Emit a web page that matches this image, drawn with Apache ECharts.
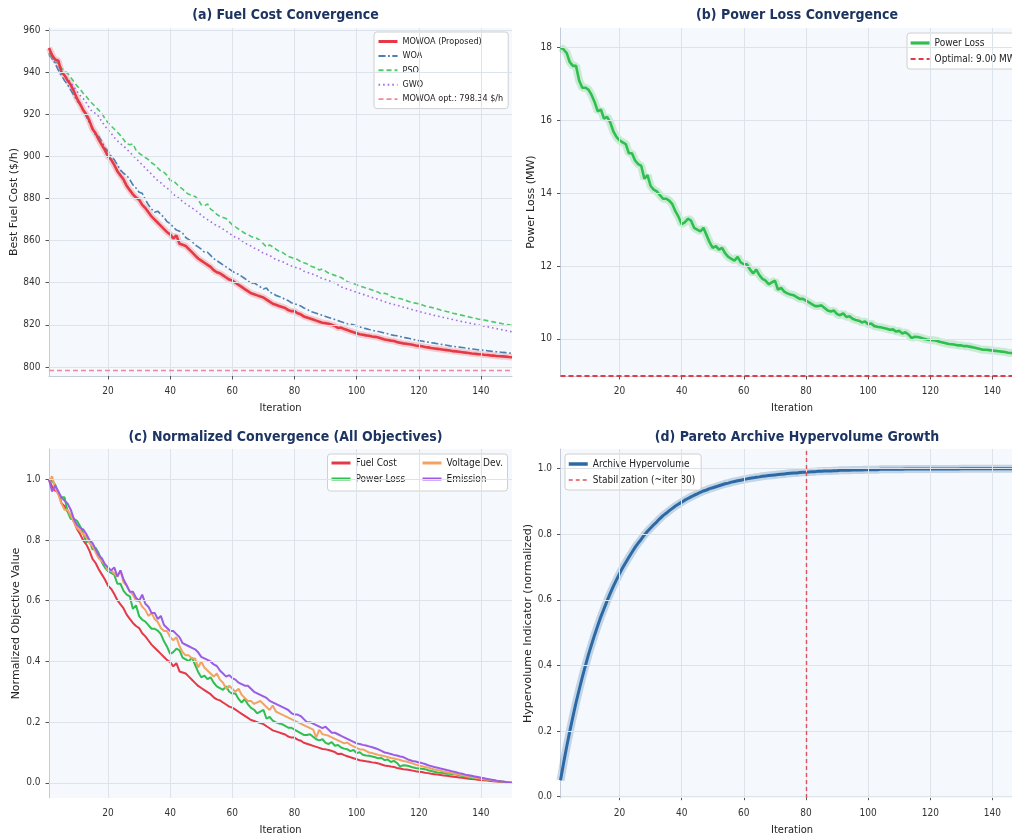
<!DOCTYPE html>
<html><head><meta charset="utf-8">
<script src="https://cdn.jsdelivr.net/npm/echarts@6/dist/echarts.min.js"></script>
<style>html,body{margin:0;padding:0;overflow:hidden;background:#fff}#c{width:1040px;height:837px}</style>
</head><body><div id="c"></div><script>
// ---------- data ----------
const xTicks = [20,40,60,80,100,120,140];
const fuelTicks = [800,820,840,860,880,900,920,940,960];
const lossTicks = [10,12,14,16,18];
const normTicks = [0,0.2,0.4,0.6,0.8,1.0];
const hvTicks = [0,0.2,0.4,0.6,0.8,1.0];

const optFuel = 798.34;
const optLoss = 9.00;
const stabIter = 80;

const fuelMOWOA = [951.5,948,946,945.5,940,938.5,936,934,931,927.5, 925,922,920,917,913,911,908,905.5,903,900, 898.5,896,893,891,889,886,884,882,880.5,879.5, 877,875.5,873.5,871.5,870,868.5,867,865.5,864,863, 861,862.5,858.5,858,857.5,856,854.5,853,851.5,850.5, 849.5,848.5,847.5,846,845,844.5,843.5,842.5,841.5,841, 840,839,838,837,836,835,834.5,834,833.5,833, 832,831,830,829.5,829,828.5,828,827,826.5,826.5, 825.5,825,824,823.5,823,822.5,822,821.5,821,820.8, 820.5,820,819.5,818.5,818.7,818,817.5,817,816.5,816, 815.5,815.3,815,814.8,814.5,814.3,814,813.5,813,812.8, 812.5,812.3,811.8,811.5,811.2,811,810.8,810.5,810.2,810, 809.8,809.5,809.3,809,808.8,808.6,808.4,808.2,808,807.8, 807.5,807.4,807.2,807,806.8,806.6,806.4,806.3,806.1,806, 805.8,805.7,805.5,805.4,805.2,805.1,805,804.9,804.7,804.6];
const fuelWOA = [949,946.5,944,941,938.5,936,934,931.5,929,926.5, 924.5,922,919,916,913.5,910,909.5,907,904,902.5, 900,898.5,896,893.5,892,891,889,886.5,885,883, 882.5,879.5,877,875,873.5,874,872.5,871,869,868, 866.5,865,864.5,863.5,861.5,860.5,859.5,858,857,856, 854.5,854.5,853,851.5,850.5,849.5,848.5,847.5,846.5,845.5, 844.5,844,843,842,841,839.5,840,839,838,837, 837.5,835.5,835,834,833.5,833,832,831.5,830.5,830, 829.5,829,828,827.5,826.5,826,825.5,825,824.5,824, 823.5,823,822.5,822,821.5,821,820.5,820.3,820,819.5, 819,818.5,818.2,817.8,817.5,817,816.8,816.5,816,815.8, 815.3,815,814.8,814.5,814,813.8,813.5,813.2,812.8,812.5, 812.3,812,811.8,811.5,811.3,811,810.8,810.5,810.3,810, 809.8,809.6,809.4,809.2,809,808.8,808.6,808.4,808.2,808, 807.9,807.7,807.5,807.4,807.2,807.1,806.9,806.8,806.6,806.5];
const fuelPSO = [948.5,947,945.5,944,942,940.5,939.5,937.5,935.5,933.5, 932,930,928.5,926.5,925,923.5,922,920.5,918,916, 914.5,913,911.5,910,908,906,905.5,906,903,901.5, 900.5,899.5,898.5,897,896,894.5,893,892.5,891,888.5, 888.5,887,885.5,884.5,883,882,881.5,881,879.5,877, 876.5,877.5,875,874,872.5,871.5,871,870.5,869,867.5, 866.5,865.5,864.5,863.5,863,862,861.5,861,860,858.5, 857,858,857,856,855,854.5,853.5,852.5,852,851.5, 851,850,849.5,849,848,847.5,847,846,846.5,845.5, 844.5,844,843.5,843,842.5,841.5,840.5,840,839.5,839, 838.5,838,837.5,837,836.5,836,835.5,834.5,835,834.5, 833.5,833,832.5,832.5,832,831.5,831,830.5,830.3,830, 829.5,829,828.5,828.3,828,827.5,827,826.7,826.3,826, 825.5,825.2,824.8,824.5,824.2,823.8,823.5,823.2,822.8,822.5, 822.3,822,821.7,821.4,821.1,820.8,820.5,820.3,820,819.7];
const fuelGWO = [948,946.5,945,942,940.5,938.5,937,935,933,931, 929,927.5,925.5,923,921,920.5,919,916.5,914.5,912.5, 911,909,907.5,906,905,903.5,902,900.5,899,897.5, 896,894.5,893,891.5,890,888.5,887.5,886,885,883.5, 882,881,880,878.5,877.5,876.5,875.5,874.5,873.5,872, 871,870,869,868,867,866.5,865.5,864.5,863.5,862.5, 861.5,861,860,859,858,857.5,856.5,856,855,854, 853.5,853,852,851,850.5,850,849.5,848.5,848,847.5, 847,846.5,845.5,845,844.5,844,843.5,842.5,842,841.5, 841,840.5,840,839,838,837.5,837,836.5,836,835.5, 835,834.5,834,833.5,833,832.5,832,831.5,831,830.5, 830,829.7,829.3,828.8,828.4,828,827.6,827.2,826.8,826.4, 826,825.6,825.3,824.9,824.5,824.2,823.8,823.5,823.2,822.8, 822.5,822.2,821.9,821.5,821.2,820.9,820.6,820.3,820,819.7, 819.4,819.1,818.8,818.5,818.2,817.9,817.6,817.3,817,816.7];
const powerLoss = [18.0,17.95,17.85,17.6,17.5,17.5,17.1,16.9,16.9,16.85, 16.7,16.5,16.25,16.3,16.05,16.1,15.95,15.7,15.55,15.45, 15.4,15.35,15.1,15.1,14.9,14.8,14.75,14.4,14.5,14.2, 14.1,14.05,13.95,13.85,13.85,13.8,13.7,13.5,13.35,13.15, 13.2,13.3,13.25,13.05,13.0,12.95,13.05,12.85,12.65,12.5, 12.55,12.45,12.5,12.35,12.25,12.2,12.15,12.25,12.1,12.05, 12.05,11.9,11.8,11.9,11.75,11.65,11.6,11.5,11.55,11.6, 11.35,11.4,11.3,11.25,11.22,11.2,11.15,11.1,11.1,11.05, 11.0,10.95,10.9,10.9,10.92,10.85,10.78,10.75,10.78,10.68, 10.65,10.7,10.6,10.62,10.55,10.52,10.5,10.45,10.48,10.4, 10.42,10.35,10.33,10.32,10.3,10.28,10.25,10.26,10.2,10.22, 10.15,10.18,10.12,10.02,10.06,10.05,10.03,10.0,9.98,9.97, 9.96,9.95,9.92,9.9,9.88,9.86,9.85,9.84,9.82,9.82, 9.8,9.8,9.78,9.76,9.74,9.72,9.7,9.7,9.69,9.68, 9.67,9.66,9.65,9.64,9.62,9.61,9.6,9.59,9.58,9.57];
const voltageDev = [0.99,1.01,0.97,0.95,0.92,0.9,0.9,0.88,0.86,0.84, 0.83,0.82,0.81,0.79,0.78,0.76,0.74,0.73,0.72,0.7, 0.7,0.69,0.68,0.7,0.66,0.65,0.63,0.62,0.6,0.6, 0.58,0.57,0.55,0.56,0.54,0.53,0.51,0.5,0.5,0.48, 0.47,0.48,0.45,0.43,0.42,0.42,0.41,0.41,0.38,0.4, 0.38,0.37,0.36,0.35,0.36,0.34,0.33,0.31,0.32,0.31, 0.3,0.31,0.29,0.28,0.27,0.27,0.26,0.265,0.27,0.26, 0.25,0.24,0.255,0.235,0.23,0.225,0.22,0.215,0.21,0.205, 0.2,0.195,0.19,0.185,0.18,0.175,0.15,0.175,0.16,0.158, 0.155,0.15,0.145,0.14,0.135,0.13,0.133,0.125,0.12,0.115, 0.11,0.11,0.105,0.1,0.098,0.095,0.092,0.09,0.088,0.085, 0.082,0.08,0.078,0.075,0.072,0.07,0.067,0.064,0.06,0.057, 0.055,0.052,0.05,0.047,0.044,0.042,0.04,0.037,0.035,0.033, 0.031,0.029,0.027,0.025,0.023,0.021,0.019,0.017,0.016,0.014, 0.012,0.011,0.009,0.008,0.007,0.005,0.004,0.003,0.001,0.0];
const emission = [1.0,0.96,0.98,0.96,0.94,0.93,0.92,0.9,0.87,0.85, 0.84,0.835,0.82,0.8,0.79,0.77,0.75,0.74,0.72,0.71, 0.7,0.71,0.68,0.7,0.67,0.65,0.63,0.63,0.61,0.6, 0.62,0.59,0.58,0.56,0.56,0.54,0.55,0.52,0.51,0.5, 0.5,0.49,0.48,0.46,0.455,0.45,0.445,0.44,0.43,0.415, 0.41,0.405,0.4,0.39,0.385,0.37,0.36,0.35,0.355,0.345, 0.34,0.33,0.325,0.32,0.32,0.31,0.3,0.295,0.29,0.285, 0.28,0.27,0.265,0.26,0.255,0.25,0.245,0.24,0.23,0.225, 0.225,0.22,0.21,0.2,0.2,0.195,0.19,0.185,0.18,0.185, 0.175,0.165,0.165,0.16,0.155,0.15,0.145,0.14,0.135,0.13, 0.128,0.125,0.123,0.12,0.117,0.114,0.11,0.105,0.1,0.098, 0.095,0.092,0.09,0.087,0.085,0.08,0.075,0.072,0.07,0.067, 0.065,0.062,0.058,0.055,0.052,0.05,0.047,0.045,0.042,0.04, 0.037,0.035,0.032,0.03,0.027,0.025,0.023,0.021,0.019,0.017, 0.015,0.013,0.011,0.009,0.007,0.006,0.004,0.003,0.001,0.0];
const hypervolume = [0.05,0.103,0.153,0.2,0.244,0.287,0.326,0.364,0.399,0.433, 0.464,0.494,0.522,0.549,0.573,0.597,0.62,0.641,0.661,0.68, 0.698,0.714,0.73,0.745,0.76,0.773,0.785,0.798,0.809,0.819, 0.829,0.838,0.848,0.857,0.864,0.872,0.879,0.886,0.892,0.898, 0.904,0.909,0.914,0.919,0.923,0.928,0.932,0.935,0.939,0.942, 0.945,0.948,0.951,0.954,0.956,0.959,0.961,0.963,0.965,0.967, 0.969,0.971,0.972,0.974,0.975,0.977,0.978,0.979,0.98,0.981, 0.982,0.983,0.984,0.985,0.986,0.987,0.987,0.988,0.989,0.989, 0.99,0.991,0.991,0.992,0.992,0.993,0.993,0.993,0.994,0.994, 0.995,0.995,0.995,0.995,0.996,0.996,0.996,0.996,0.997,0.997, 0.997,0.997,0.997,0.998,0.998,0.998,0.998,0.998,0.998,0.998, 0.998,0.999,0.999,0.999,0.999,0.999,0.999,0.999,0.999,0.999, 0.999,0.999,0.999,0.999,0.999,0.999,0.999,0.999,0.999,1.0, 1.0,1.0,1.0,1.0,1.0,1.0,1.0,1.0,1.0,1.0, 1.0,1.0,1.0,1.0,1.0,1.0,1.0,1.0,1.0,1.0];

// ---------- helpers ----------
const FONT = "'DejaVu Sans Condensed', 'DejaVu Sans', sans-serif";
const VFONT = "'DejaVu Sans', sans-serif";
const pairs = arr => arr.map((v, i) => [i + 1, v]);
const norm = arr => { const mn = Math.min(...arr), mx = Math.max(...arr); return arr.map(v => (v - mn) / (mx - mn)); };

const grids = [
  {left: 49, top: 28, width: 463, height: 348},
  {left: 560.5, top: 28, width: 463, height: 348},
  {left: 49, top: 449, width: 463, height: 349},
  {left: 560.5, top: 449, width: 463, height: 349}
].map(g => Object.assign(g, {show: true, backgroundColor: '#f5f8fc', borderWidth: 0, containLabel: false}));

function xAx(gi) {
  return {type: 'value', gridIndex: gi, min: 1, max: 150,
    name: 'Iteration', nameLocation: 'middle', nameGap: 27,
    nameTextStyle: {fontSize: 11, color: '#222', fontFamily: FONT},
    axisLine: {show: true, lineStyle: {color: '#c3ccd8', width: 1}},
    axisTick: {show: true, customValues: xTicks, length: 3.5, lineStyle: {color: '#555'}},
    axisLabel: {customValues: xTicks, fontSize: 10, color: '#333', margin: 10, fontFamily: FONT},
    splitLine: {show: false}};
}
function yAx(gi, min, max, ticks, name, gap, fmt) {
  return {type: 'value', gridIndex: gi, min: min, max: max,
    name: name, nameLocation: 'middle', nameGap: gap,
    nameTextStyle: {fontSize: 11, color: '#222', fontFamily: VFONT},
    axisLine: {show: true, lineStyle: {color: '#c3ccd8', width: 1}},
    axisTick: {show: true, customValues: ticks, length: 3.5, lineStyle: {color: '#555'}},
    axisLabel: {customValues: ticks, fontSize: 10, color: '#333', margin: 8.5, fontFamily: FONT, formatter: fmt},
    splitLine: {show: false}};
}
function gridLines(gi, yTicks) {
  return {type: 'line', xAxisIndex: gi, yAxisIndex: gi, data: [], silent: true, z: 1,
    markLine: {silent: true, symbol: 'none', animation: false, label: {show: false},
      lineStyle: {color: '#dde3eb', width: 1, type: 'solid'},
      emphasis: {disabled: true},
      data: xTicks.map(v => ({xAxis: v})).concat(yTicks.map(v => ({yAxis: v})))}};
}
function line(gi, name, data, color, width, type, z) {
  return {type: 'line', name: name, xAxisIndex: gi, yAxisIndex: gi, data: pairs(data),
    symbol: 'none', showSymbol: false, z: z || 3,
    itemStyle: {color: color},
    lineStyle: {color: color, width: width, type: type || 'solid'}};
}
function band(gi, data, color, width) {
  return {type: 'line', xAxisIndex: gi, yAxisIndex: gi, data: pairs(data), symbol: 'none',
    silent: true, z: 2, lineStyle: {color: color, width: width}};
}
function refLine(gi, name, color, width, dash, mark) {
  return {type: 'line', name: name, xAxisIndex: gi, yAxisIndex: gi, data: [], symbol: 'none', z: 3,
    itemStyle: {color: color}, lineStyle: {color: color, width: width, type: dash},
    markLine: {silent: true, symbol: 'none', animation: false, label: {show: false},
      lineStyle: {color: color, width: width, type: dash}, emphasis: {disabled: true}, data: [mark]}};
}
const li = (name, w) => ({name: name, lineStyle: {width: w}});

const optName = 'MOWOA opt.: ' + optFuel.toFixed(2) + ' $/h';
const lossOptName = 'Optimal: ' + optLoss.toFixed(2) + ' MW';
const stabName = 'Stabilization (~iter ' + stabIter + ')';

const C = {red: '#e63946', woa: '#4d7fb2', pso: '#4fc96a', gwo: '#a66ee0', opt: '#f2899a',
  green: '#2fbf4f', orange: '#f4a261', purple: '#9b5de5', blue: '#2d6aa5', stab: '#e0525e'};

const titleStyle = {fontSize: 14, fontWeight: 'bold', color: '#1d3461', fontFamily: FONT};
const hideSym = {color: 'rgba(0,0,0,0)', borderColor: 'rgba(0,0,0,0)', borderWidth: 0, opacity: 0};
const legendBase = {backgroundColor: '#fff', borderColor: '#d0d0d0', borderWidth: 1, borderRadius: 3,
  itemWidth: 19, itemHeight: 10, orient: 'vertical', selectedMode: false, itemStyle: hideSym};

const option = {
  animation: false,
  backgroundColor: '#ffffff',
  title: [
    {text: '(a) Fuel Cost Convergence', left: 280.5, top: 3, textAlign: 'center', textStyle: titleStyle},
    {text: '(b) Power Loss Convergence', left: 792, top: 3, textAlign: 'center', textStyle: titleStyle},
    {text: '(c) Normalized Convergence (All Objectives)', left: 280.5, top: 425, textAlign: 'center', textStyle: titleStyle},
    {text: '(d) Pareto Archive Hypervolume Growth', left: 792, top: 425, textAlign: 'center', textStyle: titleStyle}
  ],
  grid: grids,
  xAxis: [xAx(0), xAx(1), xAx(2), xAx(3)],
  yAxis: [
    yAx(0, 795.7, 961, fuelTicks, 'Best Fuel Cost ($/h)', 28, v => String(v)),
    yAx(1, 8.98, 18.54, lossTicks, 'Power Loss (MW)', 23, v => String(v)),
    yAx(2, -0.05, 1.1, normTicks, 'Normalized Objective Value', 27, v => v.toFixed(1)),
    yAx(3, -0.004, 1.06, hvTicks, 'Hypervolume Indicator (normalized)', 27, v => v.toFixed(1))
  ],
  legend: [
    Object.assign({}, legendBase, {left: 374, top: 32, padding: [5, 5, 5, 3], itemGap: 5.4,
      lineStyle: {width: 2},
      textStyle: {fontSize: 9, color: '#222', fontFamily: FONT},
      data: [li('MOWOA (Proposed)', 3), li('WOA', 2), li('PSO', 2), li('GWO', 2), li(optName, 1.6)]}),
    Object.assign({}, legendBase, {left: 907, top: 33, padding: [5, 6, 5, 2], itemGap: 6, itemHeight: 11,
      lineStyle: {width: 2},
      textStyle: {fontSize: 10, color: '#222', fontFamily: FONT},
      data: [li('Power Loss', 3.2), li(lossOptName, 2)]}),
    {orient: 'vertical', left: 330, top: 458, padding: 0, itemGap: 6, itemWidth: 19, itemHeight: 11, selectedMode: false, z: 5,
      itemStyle: hideSym, lineStyle: {width: 3},
      textStyle: {fontSize: 10, color: '#222', fontFamily: FONT}, data: [li('Fuel Cost', 3), li('Power Loss ', 3)]},
    {orient: 'vertical', left: 421, top: 458, padding: 0, itemGap: 6, itemWidth: 19, itemHeight: 11, selectedMode: false, z: 5,
      itemStyle: hideSym, lineStyle: {width: 3},
      textStyle: {fontSize: 10, color: '#222', fontFamily: FONT}, data: [li('Voltage Dev.', 3), li('Emission', 3)]},
    Object.assign({}, legendBase, {left: 565, top: 454, padding: [5, 6, 5, 2], itemGap: 6, itemHeight: 11,
      lineStyle: {width: 1.6},
      textStyle: {fontSize: 10, color: '#222', fontFamily: FONT},
      data: [li('Archive Hypervolume', 3.5), li(stabName, 1.6)]})
  ],
  graphic: [
    {type: 'rect', z: 3, shape: {x: 327.5, y: 454, width: 180, height: 37, r: 3},
      style: {fill: '#ffffff', stroke: '#d0d0d0', lineWidth: 1}}
  ],
  series: [
    gridLines(0, fuelTicks), gridLines(1, lossTicks), gridLines(2, normTicks), gridLines(3, hvTicks),
    // (a)
    band(0, fuelMOWOA, 'rgba(230,57,70,0.22)', 6.5),
    line(0, 'WOA', fuelWOA, C.woa, 1.6, [7, 2.5, 1.8, 2.5]),
    line(0, 'PSO', fuelPSO, C.pso, 1.6, [5, 3]),
    line(0, 'GWO', fuelGWO, C.gwo, 1.6, [1.6, 3]),
    line(0, 'MOWOA (Proposed)', fuelMOWOA, C.red, 2.6, 'solid', 4),
    refLine(0, optName, C.opt, 1.3, [5, 3], {yAxis: optFuel}),
    // (b)
    band(1, powerLoss, 'rgba(47,191,79,0.22)', 8),
    line(1, 'Power Loss', powerLoss, C.green, 2.6),
    refLine(1, lossOptName, C.red, 1.8, [5, 3], {yAxis: optLoss}),
    // (c)
    line(2, 'Fuel Cost', norm(fuelMOWOA), C.red, 2),
    line(2, 'Power Loss ', norm(powerLoss), C.green, 2),
    line(2, 'Voltage Dev.', voltageDev, C.orange, 2),
    line(2, 'Emission', emission, C.purple, 2),
    // (d)
    band(3, hypervolume, 'rgba(45,106,165,0.25)', 8),
    line(3, 'Archive Hypervolume', hypervolume, C.blue, 3),
    refLine(3, stabName, C.stab, 1.4, [4, 3], {xAxis: stabIter})
  ]
};

const chart = echarts.init(document.getElementById('c'), null, {renderer: 'canvas'});
chart.setOption(option);
</script></body></html>
